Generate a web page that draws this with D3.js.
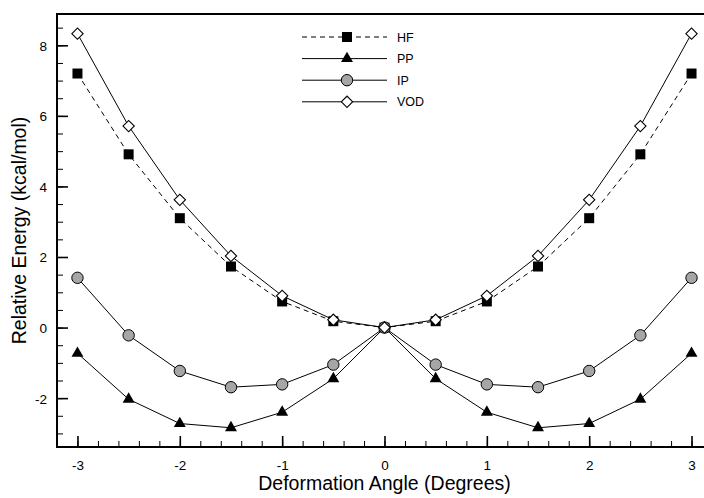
<!DOCTYPE html>
<html>
<head>
<meta charset="utf-8">
<script src="https://cdn.jsdelivr.net/npm/d3@7"></script>
<style>
    body { margin: 0; background: #fff; }
    svg { display: block; font-family: "Liberation Sans", Arial, sans-serif; }
</style>
</head>
<body>
<div id="chart"></div>
<script>
    // deformation angle (degrees)
    var angles = [-3, -2.5, -2, -1.5, -1, -0.5, 0, 0.5, 1, 1.5, 2, 2.5, 3];
    // relative energies (kcal/mol)
    var hf = [7.2, 4.91, 3.1, 1.73, 0.74, 0.18, 0, 0.18, 0.74, 1.73, 3.1, 4.91, 7.2];
    var pp = [-0.73, -2.03, -2.72, -2.84, -2.4, -1.45, 0, -1.45, -2.4, -2.84, -2.72, -2.03, -0.73];
    var ip = [1.41, -0.22, -1.23, -1.69, -1.61, -1.05, 0, -1.05, -1.61, -1.69, -1.23, -0.22, 1.41];
    var vod = [8.33, 5.71, 3.62, 2.03, 0.9, 0.22, 0, 0.22, 0.9, 2.03, 3.62, 5.71, 8.33];
    var seriesNames = ["HF", "PP", "IP", "VOD"];
    var xTicks = [-3, -2, -1, 0, 1, 2, 3];
    var yTicks = [-2, 0, 2, 4, 6, 8];

    var width = 704, height = 498;
    var plot = {left: 57, right: 712, top: 14, bottom: 447};

    var svg = d3.select("#chart").append("svg")
        .attr("width", width).attr("height", height);

    var x = d3.scaleLinear().domain([-3.2, 3.2]).range([plot.left, plot.right]);
    var y = d3.scaleLinear().domain([-3.385, 8.887]).range([plot.bottom, plot.top]);

    // plain hyphen for negatives, like the original
    var fmt = function (d) { return String(d); };

    var styles = {
        HF: {values: hf, dash: "5,4", shape: "square"},
        PP: {values: pp, dash: null, shape: "triangle"},
        IP: {values: ip, dash: null, shape: "circle"},
        VOD: {values: vod, dash: null, shape: "diamond"}
    };

    function marker(g, shape) {
        if (shape === "square") {
            g.append("path").attr("d", d3.symbol(d3.symbolSquare, 100)())
                .attr("fill", "#000");
        } else if (shape === "triangle") {
            g.append("path").attr("d", d3.symbol(d3.symbolTriangle, 62)())
                .attr("fill", "#000");
        } else if (shape === "circle") {
            g.append("circle").attr("r", 5.7)
                .attr("fill", "#a6a6a6").attr("stroke", "#000").attr("stroke-width", 1);
        } else {
            g.append("path").attr("d", d3.symbol(d3.symbolSquare, 64)())
                .attr("transform", "rotate(45)")
                .attr("fill", "#fff").attr("stroke", "#000").attr("stroke-width", 1.1);
        }
    }

    // minor ticks
    var xMinor = d3.range(-3.2, 3.21, 0.2).map(function (d) { return Math.round(d * 10) / 10; });
    var yMinor = d3.range(-3, 8.6, 0.5);

    svg.append("g").attr("transform", "translate(0," + plot.bottom + ")")
        .call(d3.axisBottom(x).tickValues(xMinor).tickSize(-6).tickFormat(""))
        .call(function (g) { g.select(".domain").remove(); });
    svg.append("g").attr("transform", "translate(0," + plot.bottom + ")")
        .call(d3.axisBottom(x).tickValues(xTicks).tickSize(-11).tickPadding(13).tickFormat(fmt))
        .call(function (g) {
            g.select(".domain").remove();
            g.selectAll(".tick line").attr("stroke-width", 1.6);
            g.selectAll(".tick text").attr("font-size", 13.5).attr("fill", "#000");
        });

    svg.append("g").attr("transform", "translate(" + plot.left + ",0)")
        .call(d3.axisLeft(y).tickValues(yMinor).tickSize(-6).tickFormat(""))
        .call(function (g) { g.select(".domain").remove(); });
    svg.append("g").attr("transform", "translate(" + plot.left + ",0)")
        .call(d3.axisLeft(y).tickValues(yTicks).tickSize(-11).tickPadding(10).tickFormat(fmt))
        .call(function (g) {
            g.select(".domain").remove();
            g.selectAll(".tick line").attr("stroke-width", 1.6);
            g.selectAll(".tick text").attr("font-size", 13.5).attr("fill", "#000")
                .attr("dy", "0.36em");
        });

    // frame
    svg.append("rect")
        .attr("x", plot.left).attr("y", plot.top)
        .attr("width", plot.right - plot.left).attr("height", plot.bottom - plot.top)
        .attr("fill", "none").attr("stroke", "#000").attr("stroke-width", 2);

    var line = d3.line()
        .x(function (d) { return x(d[0]); })
        .y(function (d) { return y(d[1]); });

    seriesNames.forEach(function (name) {
        var s = styles[name];
        var pts = angles.map(function (a, i) { return [a, s.values[i]]; });
        svg.append("path").datum(pts)
            .attr("d", line)
            .attr("fill", "none").attr("stroke", "#000").attr("stroke-width", 1)
            .attr("stroke-dasharray", s.dash);
    });

    seriesNames.forEach(function (name) {
        var s = styles[name];
        angles.forEach(function (a, i) {
            var g = svg.append("g")
                .attr("transform", "translate(" + x(a) + "," + y(s.values[i]) + ")");
            marker(g, s.shape);
        });
    });

    // legend
    var legend = svg.append("g");
    seriesNames.forEach(function (name, i) {
        var s = styles[name];
        var ly = 37 + i * 21.6;
        legend.append("line")
            .attr("x1", 302).attr("x2", 387).attr("y1", ly).attr("y2", ly)
            .attr("stroke", "#000").attr("stroke-width", 1)
            .attr("stroke-dasharray", s.dash);
        var g = legend.append("g").attr("transform", "translate(347," + ly + ")");
        marker(g, s.shape);
        legend.append("text").attr("x", 397).attr("y", ly).attr("dy", "0.36em")
            .attr("font-size", 12.5).text(name);
    });

    // axis titles
    svg.append("text")
        .attr("x", x(0)).attr("y", 490)
        .attr("text-anchor", "middle").attr("font-size", 19.5)
        .text("Deformation Angle (Degrees)");
    svg.append("text")
        .attr("transform", "translate(26," + ((plot.top + plot.bottom) / 2) + ") rotate(-90)")
        .attr("text-anchor", "middle").attr("font-size", 19.5)
        .text("Relative Energy (kcal/mol)");
</script>
</body>
</html>
